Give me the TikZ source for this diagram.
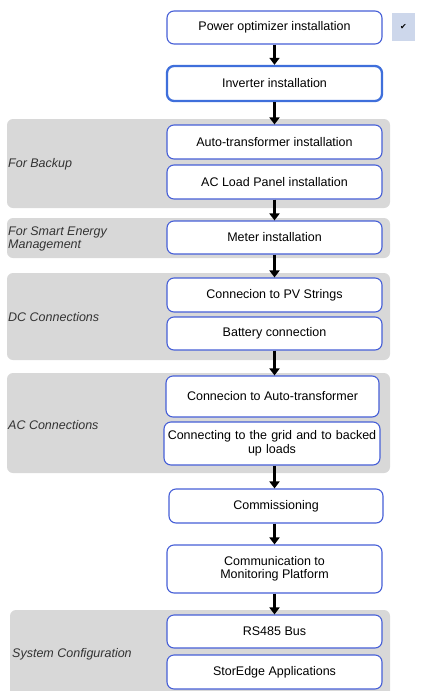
\documentclass[tikz,border=0pt]{standalone}
\usepackage{fontspec}
\setmainfont{Liberation Sans}
\newfontfamily\symfont{DejaVu Sans}
\usetikzlibrary{positioning}
\usetikzlibrary{arrows.meta}
\definecolor{boxblue}{RGB}{70,95,215}
\definecolor{bandgray}{RGB}{216,216,216}
\definecolor{tickblue}{RGB}{205,215,235}
\tikzset{
	task/.style={draw=boxblue, line width=1.1pt, fill=white, rounded corners=7pt,
		minimum width=215, align=center, inner sep=1pt,
		font=\fontsize{12.5}{13.5}\selectfont},
	grouplabel/.style={anchor=west, align=left, inner sep=0pt,
		font=\fontsize{12.5}{13}\selectfont\itshape, text=black!80},
	flow/.style={line width=3.8pt, -{Triangle[width=10pt,length=7pt]}}
}
\newcommand{\band}[3]{
	\fill[bandgray, rounded corners=6pt] (#1,#2) rectangle (390,#3);
}

\begin{document}
\begin{tikzpicture}[x=1pt, y=-1pt]
	\useasboundingbox (0,0) rectangle (425,691);

	%gray group bands
	\band{7}{119}{208}
	\band{7}{218}{258}
	\band{7}{273}{360}
	\band{7}{373}{473}
	\band{10}{610}{700}

	%group labels
	\node[grouplabel] (lbackup) at (8,164) {For Backup};
	\node[grouplabel] (lsmart) at (8,239) {For Smart Energy\\Management};
	\node[grouplabel] (ldc) at (8,317) {DC Connections};
	\node[grouplabel] (lac) at (8,425) {AC Connections};
	\node[grouplabel] (lsys) at (12,654) {System Configuration};

	%steps
	\node[task, minimum height=33] (optim) at (274.5,27.5) {Power optimizer installation};
	\node[task, minimum height=35, line width=2.3pt, draw=boxblue!90!cyan] (inv) at (274.5,83.5) {Inverter installation};
	\node[task, minimum height=34] (autotr) at (274.5,142) {Auto-transformer installation};
	\node[task, minimum height=34] (acload) at (274.5,182) {AC Load Panel installation};
	\node[task, minimum height=33] (meter) at (274.5,237.5) {Meter installation};
	\node[task, minimum height=34] (pv) at (274.5,295) {Connecion to PV Strings};
	\node[task, minimum height=33] (batt) at (274.5,333.5) {Battery connection};
	\node[task, minimum height=41, minimum width=213] (acauto) at (272.5,396.5) {Connecion to Auto-transformer};
	\node[task, minimum height=43, minimum width=216, text width=213] (grid) at (272,443.5) {Connecting to the grid and to backed\\up loads};
	\node[task, minimum height=34, minimum width=214] (comm) at (276,506) {Commissioning};
	\node[task, minimum height=48] (monit) at (274.5,569) {Communication to\\Monitoring Platform};
	\node[task, minimum height=33] (rs485) at (274.5,631.5) {RS485 Bus};
	\node[task, minimum height=34] (storedge) at (274.5,672) {StorEdge Applications};

	%tick button
	\node[fill=tickblue, minimum width=23, minimum height=28, inner sep=0pt,
		font=\symfont\fontsize{8}{8}\selectfont] (tick) at (403.5,27) {✔};

	%flow arrows
	\draw[flow] (optim) -- (inv);
	\draw[flow] (inv) -- (autotr);
	\draw[flow] (acload) -- (meter);
	\draw[flow] (meter) -- (pv);
	\draw[flow] (batt.south -| inv.south) -- (acauto.north -| inv.south);
	\draw[flow] (grid.south -| inv.south) -- (comm.north -| inv.south);
	\draw[flow] (comm.south -| inv.south) -- (monit.north -| inv.south);
	\draw[flow] (monit) -- (rs485);

\end{tikzpicture}
\end{document}
